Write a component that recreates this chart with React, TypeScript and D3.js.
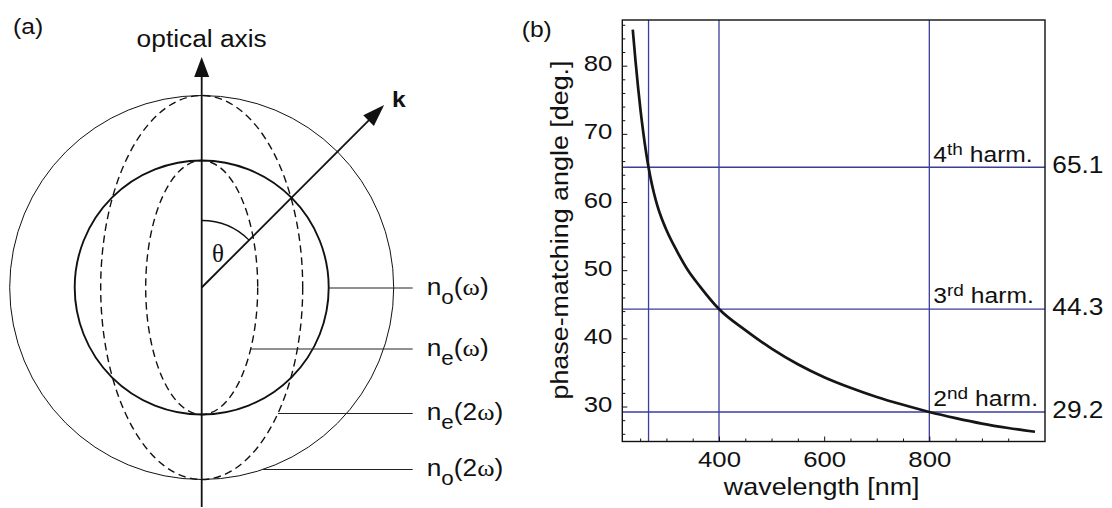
import { useEffect, useRef } from 'react';
import * as d3 from 'd3';

// (b) phase-matching curve
const wavelengths = [236, 241, 246, 251, 256, 261, 266, 271, 276, 283, 290, 300, 320, 340, 364, 400, 450, 500, 550, 600, 650, 700, 750, 800, 850, 900, 950, 1001];
const angles = [85.3, 80.9, 76.9, 73.3, 70.2, 67.45, 65.1, 63.1, 61.4, 59.4, 57.8, 55.9, 52.8, 50.1, 47.6, 44.3, 41.2, 38.5, 36.2, 34.3, 32.75, 31.4, 30.25, 29.2, 28.3, 27.5, 26.85, 26.3];

const harmWavelengths = [266, 400, 800];
const harmAngles = [65.1, 44.3, 29.2];
const harmOrders = ['4', '3', '2'];
const harmSuffixes = ['th', 'rd', 'nd'];

const xTicks = [400, 600, 800];
const yTicks = [30, 40, 50, 60, 70, 80];

// (a) index surfaces
const circleRadii = [127, 192];   // n_o(ω), n_o(2ω)
const ellipseRx = [56, 101];      // n_e(ω), n_e(2ω); vertical semi-axis = circle radius
const labelSubs = ['o', 'e', 'e', 'o'];
const labelArgs = ['', '', '2', '2'];
const labelDy = [0.5, 61.5, 126, 182];
const labelShape = ['circle', 'ellipse', 'ellipse', 'circle'];
const labelSize = [0, 0, 1, 1];

const SX = 1.12;
const FONT = "'Liberation Sans', Arial, Helvetica, sans-serif";
const SERIF = "'Liberation Serif', 'Times New Roman', serif";

const T = ({ x, y, size, anchor = 'start', weight, children }: any) => (
  <text
    transform={`translate(${x},${y}) scale(${SX},1)`}
    fontSize={size}
    textAnchor={anchor}
    fontFamily={FONT}
    fontWeight={weight}
    fill="#111"
  >
    {children}
  </text>
);

function PanelA() {
  const cx = 201.7;
  const cy = 287.5;

  const arc = d3.path();
  arc.moveTo(cx, cy - 67);
  arc.arc(cx, cy, 67, -Math.PI / 2, -Math.PI / 4);

  const kDir = [Math.SQRT1_2, -Math.SQRT1_2];
  const kTip = 258;
  const kBase = 236;
  const kp = (d: number, off = 0) => [
    cx + kDir[0] * d - kDir[1] * off,
    cy + kDir[1] * d + kDir[0] * off,
  ];

  return (
    <g>
      {circleRadii.map((r, i) => (
        <circle key={'c' + i} cx={cx} cy={cy} r={r} fill="none" stroke="#111" strokeWidth={i === 0 ? 1.9 : 1} />
      ))}
      {ellipseRx.map((rx, i) => (
        <ellipse key={'e' + i} cx={cx} cy={cy} rx={rx} ry={circleRadii[i]} fill="none" stroke="#111" strokeWidth={1.4} strokeDasharray="7.5,4.5" />
      ))}

      {/* optical axis */}
      <line x1={cx} y1={507} x2={cx} y2={72} stroke="#111" strokeWidth={1.8} />
      <polygon points={`${cx},57 ${cx - 7.5},77 ${cx + 7.5},77`} fill="#111" />
      <T x={cx} y={46.7} size={23.5} anchor="middle">optical axis</T>

      {/* k vector */}
      <line x1={cx} y1={cy} x2={kp(kBase + 2)[0]} y2={kp(kBase + 2)[1]} stroke="#111" strokeWidth={1.8} />
      <polygon points={[kp(kTip), kp(kBase, 7.5), kp(kBase, -7.5)].map((p) => p.join(',')).join(' ')} fill="#111" />
      <T x={392} y={107} size={22} weight="bold">k</T>

      <path d={arc.toString()} fill="none" stroke="#111" strokeWidth={1.3} />
      <text x={218} y={262} fontSize={25} fontFamily={SERIF} textAnchor="middle" fill="#111">θ</text>

      {labelDy.map((dy, i) => {
        const ly = cy + dy;
        const R = circleRadii[labelSize[i]];
        const a = labelShape[i] === 'circle' ? R : ellipseRx[labelSize[i]];
        const xs = cx + a * Math.sqrt(Math.max(0, 1 - (dy / R) ** 2));
        return (
          <g key={'l' + i}>
            <line x1={xs} y1={ly} x2={412.7} y2={ly} stroke="#222" strokeWidth={1} />
            <T x={426.7} y={ly + 6.7} size={23.5}>
              n<tspan fontSize={20} dy={9}>{labelSubs[i]}</tspan>
              <tspan dy={-9}>({labelArgs[i]}</tspan>
              <tspan fontFamily={SERIF}>ω</tspan>)
            </T>
          </g>
        );
      })}

      <T x={13} y={34} size={22}>(a)</T>
    </g>
  );
}

export default function App() {
  const ref = useRef<SVGGElement>(null);

  useEffect(() => {
    if (!ref.current) return;
    const g = d3.select(ref.current);
    g.selectAll('*').remove();

    const x0 = 622.3, x1 = 1045, y0 = 20, y1 = 441.5;
    const x = d3.scaleLinear().domain([216.1, 1020]).range([x0, x1]);
    const y = d3.scaleLinear().domain([24.87, 86.7]).range([y1, y0]);

    const blue = '#3d3d9c';

    // guide lines
    g.selectAll('line.vg')
      .data(harmWavelengths)
      .join('line')
      .attr('class', 'vg')
      .attr('x1', (d) => x(d)).attr('x2', (d) => x(d))
      .attr('y1', y0).attr('y2', y1)
      .attr('stroke', blue).attr('stroke-width', 1.3);
    g.selectAll('line.hg')
      .data(harmAngles)
      .join('line')
      .attr('class', 'hg')
      .attr('x1', x0).attr('x2', x1)
      .attr('y1', (d) => y(d)).attr('y2', (d) => y(d))
      .attr('stroke', blue).attr('stroke-width', 1.3);

    // curve
    const line = d3.line<number>()
      .x((_, i) => x(wavelengths[i]))
      .y((d) => y(d))
      .curve(d3.curveMonotoneX);
    g.append('path')
      .datum(angles)
      .attr('d', line)
      .attr('fill', 'none')
      .attr('stroke', '#151515')
      .attr('stroke-width', 2.7);

    const styleText = (sel: any, size: number, dy: string) => {
      sel.selectAll('text')
        .attr('font-family', FONT)
        .attr('font-size', size)
        .attr('fill', '#111')
        .attr('dy', dy)
        .each(function (this: SVGTextElement) {
          const t = d3.select(this);
          const xv = +(t.attr('x') || 0);
          t.attr('x', xv / SX).attr('transform', `scale(${SX},1)`);
        });
    };

    // y axis
    const gy = g.append('g').attr('transform', `translate(${x0},0)`);
    gy.call(d3.axisLeft(y).tickValues(yTicks).tickSize(-5).tickPadding(10).tickFormat(d3.format('d')));
    gy.select('.domain').remove();
    gy.selectAll('.tick line').attr('stroke', '#111');
    styleText(gy, 23, '0.22em');
    const gym = g.append('g').attr('transform', `translate(${x0},0)`);
    gym.call(d3.axisLeft(y).tickValues(d3.range(26, 87, 2).filter((v) => v % 10 !== 0)).tickSize(-3).tickFormat(() => ''));
    gym.select('.domain').remove();
    gym.selectAll('.tick line').attr('stroke', '#111');

    // x axis
    const gx = g.append('g').attr('transform', `translate(0,${y1})`);
    gx.call(d3.axisBottom(x).tickValues(xTicks).tickSize(-5).tickPadding(9.5).tickFormat(d3.format('d')));
    gx.select('.domain').remove();
    gx.selectAll('.tick line').attr('stroke', '#111');
    styleText(gx, 23, '0.71em');
    const gxm = g.append('g').attr('transform', `translate(0,${y1})`);
    gxm.call(d3.axisBottom(x).tickValues(d3.range(250, 1001, 50).filter((v) => v % 200 !== 0)).tickSize(-3).tickFormat(() => ''));
    gxm.select('.domain').remove();
    gxm.selectAll('.tick line').attr('stroke', '#111');

    // frame
    g.append('rect')
      .attr('x', x0).attr('y', y0)
      .attr('width', x1 - x0).attr('height', y1 - y0)
      .attr('fill', 'none').attr('stroke', '#111').attr('stroke-width', 1.4);

    // harmonic labels
    harmAngles.forEach((a, i) => {
      const t = g.append('text')
        .attr('transform', `translate(${x(harmWavelengths[2]) + 4},${y(a) - 5.6}) scale(${SX},1)`)
        .attr('font-family', FONT)
        .attr('font-size', 22)
        .attr('fill', '#111');
      t.append('tspan').text(harmOrders[i]);
      t.append('tspan').attr('font-size', 17).attr('dy', -7).text(harmSuffixes[i]);
      t.append('tspan').attr('dy', 7).text('\u00a0harm.');

      g.append('text')
        .attr('transform', `translate(1052.3,${y(a) + 6}) scale(${SX},1)`)
        .attr('font-family', FONT)
        .attr('font-size', 23.5)
        .attr('fill', '#111')
        .text(a.toFixed(1));
    });

    // titles
    g.append('text')
      .attr('transform', `translate(821.7,495) scale(${SX},1)`)
      .attr('text-anchor', 'middle')
      .attr('font-family', FONT)
      .attr('font-size', 24)
      .attr('fill', '#111')
      .text('wavelength [nm]');
    g.append('text')
      .attr('transform', `translate(568,230) rotate(-90) scale(${SX},1)`)
      .attr('text-anchor', 'middle')
      .attr('font-family', FONT)
      .attr('font-size', 24)
      .attr('fill', '#111')
      .text('phase-matching angle [deg.]');
    g.append('text')
      .attr('transform', `translate(521.7,37) scale(${SX},1)`)
      .attr('font-family', FONT)
      .attr('font-size', 22)
      .attr('fill', '#111')
      .text('(b)');
  }, []);

  return (
    <svg
      width={1112}
      height={508}
      style={{ position: 'absolute', left: 0, top: 0, background: '#fff' }}
    >
      <PanelA />
      <g ref={ref} />
    </svg>
  );
}
